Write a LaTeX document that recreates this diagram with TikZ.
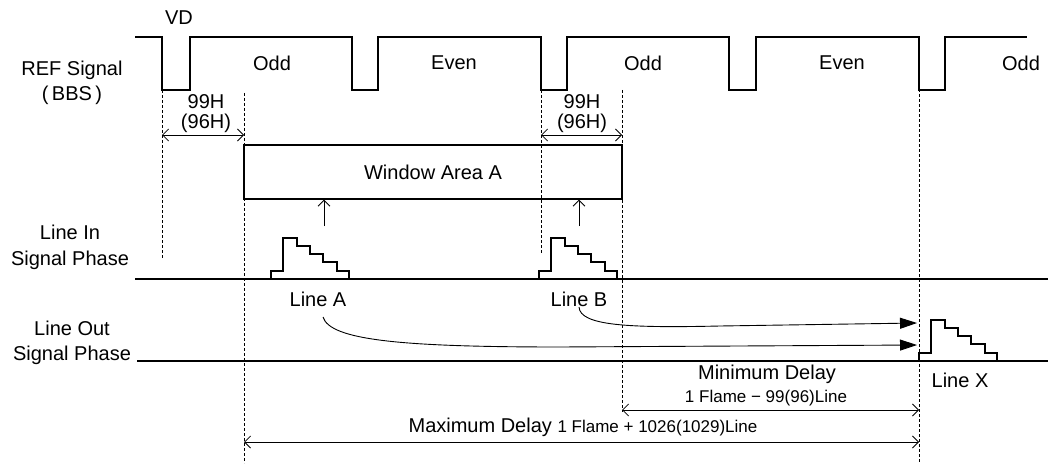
\documentclass[tikz,border=0pt]{standalone}
\usepackage{fontspec}
\setmainfont{Liberation Sans}
\usepackage{tikz}
\usetikzlibrary{positioning,arrows.meta}

\newcommand{\linepulse}[2]{%
  \draw[sig] (#1,#2) -- ++(0,-8) -- ++(12,0) -- ++(0,-33) -- ++(14,0) -- ++(0,8)
    -- ++(13,0) -- ++(0,8) -- ++(13,0) -- ++(0,8) -- ++(14,0) -- ++(0,9)
    -- ++(12,0) -- ++(0,8);}

\begin{document}
\begin{tikzpicture}[x=1pt, y=-1pt, font=\fontsize{20}{23}\selectfont,
  sig/.style={line width=1.1pt},
  guide/.style={line width=0.8pt, dash pattern=on 3pt off 2pt},
  dim/.style={line width=0.8pt, {Straight Barb[length=6pt,width=12pt]}-{Straight Barb[length=6pt,width=12pt]}},
  uparr/.style={line width=0.9pt, -{Straight Barb[length=6pt,width=12pt]}},
  delayarr/.style={line width=0.9pt, -{Triangle[length=17pt,width=11pt]}},
  lbl/.style={inner sep=0pt},
  small/.style={inner sep=0pt, font=\fontsize{17}{19}\selectfont}]
\useasboundingbox (0,0) rectangle (1048,465);
% REF signal
\draw[sig] (135,37) -- (162,37) -- (162,90) -- (190,90) -- (190,37)
  -- (352,37) -- (352,90) -- (378,90) -- (378,37)
  -- (541,37) -- (541,90) -- (567,90) -- (567,37)
  -- (729,37) -- (729,90) -- (756,90) -- (756,37)
  -- (919,37) -- (919,90) -- (945,90) -- (945,37) -- (1027,37);
\node[lbl] (vd) at (179,18) {VD};
\node[lbl] (odd1) at (272,63) {Odd};
\node[lbl] (even1) at (454,63) {Even};
\node[lbl] (odd2) at (643,63) {Odd};
\node[lbl] (even2) at (842,63) {Even};
\node[lbl] (odd3) at (1021,63) {Odd};
% lane labels
\node[lbl] (refsig) at (72,70) {REF Signal};
\node[lbl] (bbs) at (72,95) {(\,BBS\,)};
\node[lbl] (linein) at (70,232) {Line In};
\node[lbl] (sigin) at (70,260) {Signal Phase};
\node[lbl] (lineout) at (72,328) {Line Out};
\node[lbl] (sigout) at (72,355) {Signal Phase};
% guides
\coordinate (g1t) at (162,90);  \coordinate (g1b) at (162,258);
\coordinate (g2t) at (244,93);  \coordinate (g2b) at (244,463);
\coordinate (g3t) at (541,90);  \coordinate (g3b) at (541,253);
\coordinate (g4t) at (622,90);  \coordinate (g4b) at (622,412);
\coordinate (g5t) at (919,84);  \coordinate (g5b) at (919,463);
\draw[guide] (g1t) -- (g1b);
\draw[guide] (g2t) -- (g2b);
\draw[guide] (g3t) -- (g3b);
\draw[guide] (g4t) -- (g4b);
\draw[guide] (g5t) -- (g5b);
% 99H offsets
\draw[dim] (g1t |- 0,135) -- (g2t |- 0,135);
\node[lbl] (h99a) at (206,102) {99H};
\node[lbl] (h96a) at (206,123) {(96H)};
\draw[dim] (g3t |- 0,135) -- (g4t |- 0,135);
\node[lbl] (h99b) at (582,102) {99H};
\node[lbl] (h96b) at (582,123) {(96H)};
% window
\node[sig, draw, minimum width=378pt, minimum height=54pt, inner sep=0pt] (win) at (433,172) {Window Area A};
\coordinate (upA) at (324,226);
\coordinate (upB) at (579,226);
\draw[uparr] (upA) -- (upA |- win.south);
\draw[uparr] (upB) -- (upB |- win.south);
% phase lines
\coordinate (inL) at (135,279);  \coordinate (inR) at (1048,279);
\coordinate (outL) at (137,361); \coordinate (outR) at (1048,361);
\draw[sig] (inL) -- (inR);
\draw[sig] (outL) -- (outR);
\linepulse{271}{279}
\linepulse{539}{279}
\linepulse{919}{361}
\node[lbl] (lineA) at (318,299) {Line A};
\node[lbl] (lineB) at (579,299) {Line B};
\node[lbl] (lineX) at (960,380) {Line X};
% delays
\coordinate (a0) at (323,317);  \coordinate (a1) at (917,345);
\coordinate (b0) at (579,307);  \coordinate (b1) at (917,323);
\draw[delayarr] (a0) .. controls (330,340) and (400,347) .. (560,347) -- (a1);
\draw[delayarr] (b0) .. controls (580,326) and (630,328) .. (720,326) -- (b1);
\draw[dim] (g4t |- 0,410) -- (g5t |- 0,410);
\node[lbl] (mindel) at (767,374) {Minimum Delay};
\node[small] (minval) at (766,398) {1 Flame − 99(96)Line};
\draw[dim] (g2t |- 0,442) -- (g5t |- 0,442);
\node[lbl] (maxdel) at (583,427) {Maximum Delay {\fontsize{17}{19}\selectfont 1 Flame + 1026(1029)Line}};
\end{tikzpicture}
\end{document}
